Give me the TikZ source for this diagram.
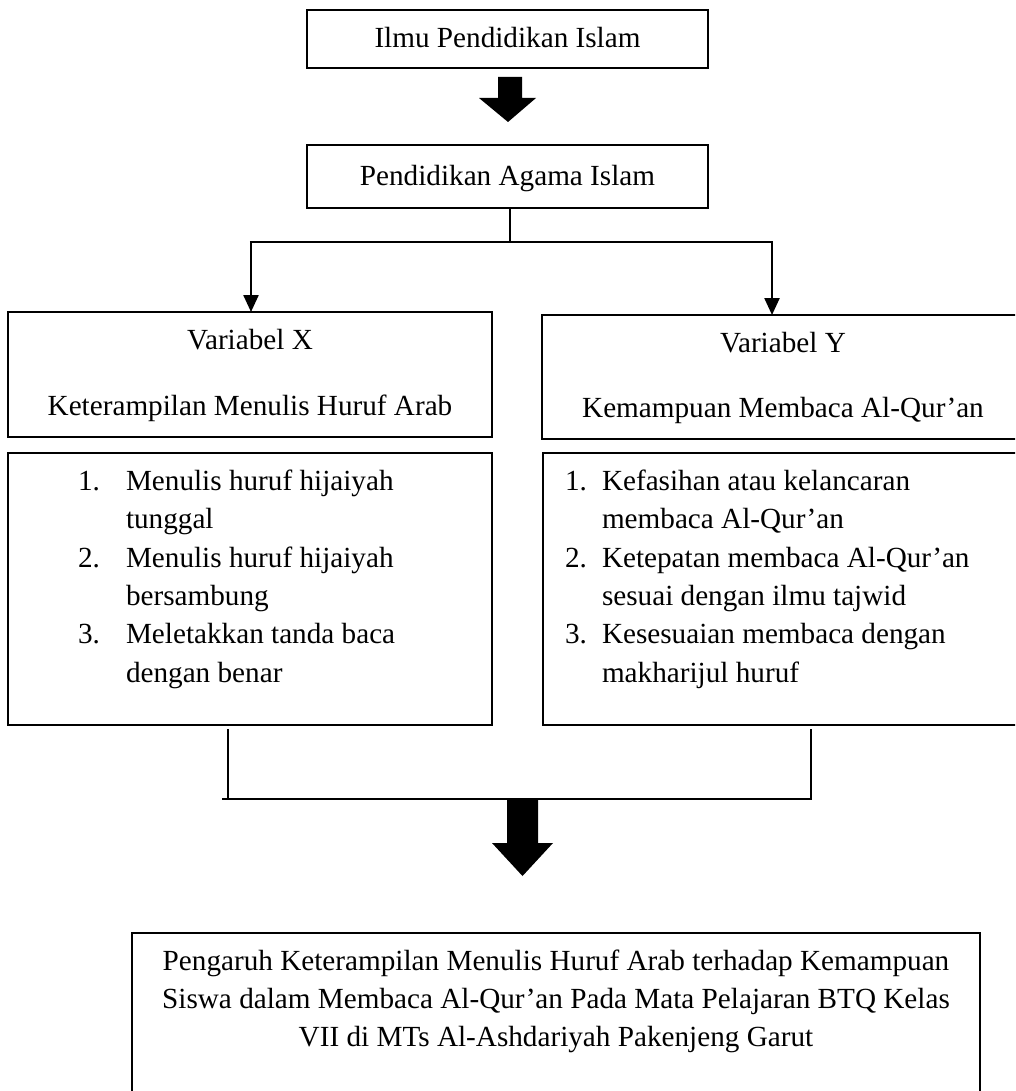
\documentclass[tikz,border=0pt]{standalone}
\usepackage{fontspec}
\setmainfont{Liberation Serif}
\usetikzlibrary{arrows.meta}
\newcommand\diafont{\fontsize{29.2}{38.3}\selectfont}
\begin{document}
\begin{tikzpicture}[x=1pt,y=-1pt,
  box/.style={draw,line width=1.6pt,inner sep=0pt,outer sep=0pt},
  conn/.style={line width=2.4pt},
  arr/.style={line width=2.4pt,-{Triangle[width=15pt,length=17pt]}},
  txt/.style={inner sep=0pt,outer sep=0pt,font=\diafont},
  blockarrow/.style={fill=black,draw=none}]
\useasboundingbox (0,0) rectangle (1015,1091);
\clip (0,0) rectangle (1015,1091);
% top boxes
\node[box,minimum width=401pt,minimum height=58pt] (b1) at (507.5,39) {};
\node[txt,anchor=base] (t1) at (507.5,48) {Ilmu Pendidikan Islam};
\node[box,minimum width=401pt,minimum height=63pt] (b2) at (507.5,176.5) {};
\node[txt,anchor=base] (t2) at (507.5,186) {Pendidikan Agama Islam};
% block arrow 1
\fill[blockarrow] (498,77) -- (522,77) -- (522,98) -- (536,98) -- (508,122) -- (479,98) -- (498,98) -- cycle;
% variable boxes
\node[box,minimum width=484pt,minimum height=125pt] (bx) at (250,374.5) {};
\node[txt,anchor=base] (vx) at (250,349) {Variabel X};
\node[txt,anchor=base] (kx) at (250,415) {Keterampilan Menulis Huruf Arab};
\node[box,minimum width=482pt,minimum height=124pt] (by) at (783,377) {};
\node[txt,anchor=base] (vy) at (783,352) {Variabel Y};
\node[txt,anchor=base] (ky) at (783,417) {Kemampuan Membaca Al-Qur’an};
% connectors
\coordinate (jl) at (251,242);
\coordinate (jr) at (772,242);
\draw[conn] (b2.south -| 510,0) -- (jl -| 510,0);
\draw[conn] ([xshift=-1.2pt]jl) -- ([xshift=1.2pt]jr);
\draw[arr] (jl) -- (jl |- bx.north);
\draw[arr] (jr) -- (jr |- by.north);
% list boxes
\node[box,minimum width=484pt,minimum height=272pt] (lx) at (250,589) {};
\node[box,minimum width=481pt,minimum height=272pt] (ly) at (783.5,589) {};
\node[txt,anchor=base west] (nx1) at (78,490) {1.};
\node[txt,anchor=base west] (ix1) at (126,490) {Menulis huruf hijaiyah};
\node[txt,anchor=base west] (ix1b) at (126,528) {tunggal};
\node[txt,anchor=base west] (nx2) at (78,567) {2.};
\node[txt,anchor=base west] (ix2) at (126,567) {Menulis huruf hijaiyah};
\node[txt,anchor=base west] (ix2b) at (126,605) {bersambung};
\node[txt,anchor=base west] (nx3) at (78,643) {3.};
\node[txt,anchor=base west] (ix3) at (126,643) {Meletakkan tanda baca};
\node[txt,anchor=base west] (ix3b) at (126,682) {dengan benar};
\node[txt,anchor=base west] (ny1) at (565,490) {1.};
\node[txt,anchor=base west] (iy1) at (602,490) {Kefasihan atau kelancaran};
\node[txt,anchor=base west] (iy1b) at (602,528) {membaca Al-Qur’an};
\node[txt,anchor=base west] (ny2) at (565,567) {2.};
\node[txt,anchor=base west] (iy2) at (602,567) {Ketepatan membaca Al-Qur’an};
\node[txt,anchor=base west] (iy2b) at (602,605) {sesuai dengan ilmu tajwid};
\node[txt,anchor=base west] (ny3) at (565,643) {3.};
\node[txt,anchor=base west] (iy3) at (602,643) {Kesesuaian membaca dengan};
\node[txt,anchor=base west] (iy3b) at (602,682) {makharijul huruf};
% bottom bracket
\coordinate (kl) at (228,799);
\coordinate (kr) at (811,799);
\draw[conn] ([yshift=-4pt]kl |- lx.south) -- (kl);
\draw[conn] ([xshift=-6pt]kl) -- ([xshift=1.2pt]kr);
\draw[conn] ([yshift=-4pt]kr |- ly.south) -- ([yshift=-1.2pt]kr);
% block arrow 2
\fill[blockarrow] (507,799) -- (538,799) -- (538,843) -- (553,843) -- (522.5,876) -- (492,843) -- (507,843) -- cycle;
% final box
\node[box,minimum width=848pt,minimum height=197pt] (bf) at (556,1031.5) {};
\node[txt,anchor=base] (f1) at (556,970) {Pengaruh Keterampilan Menulis Huruf Arab terhadap Kemampuan};
\node[txt,anchor=base] (f2) at (556,1008) {Siswa dalam Membaca Al-Qur’an Pada Mata Pelajaran BTQ Kelas};
\node[txt,anchor=base] (f3) at (556,1046) {VII di MTs Al-Ashdariyah Pakenjeng Garut};
\end{tikzpicture}
\end{document}
